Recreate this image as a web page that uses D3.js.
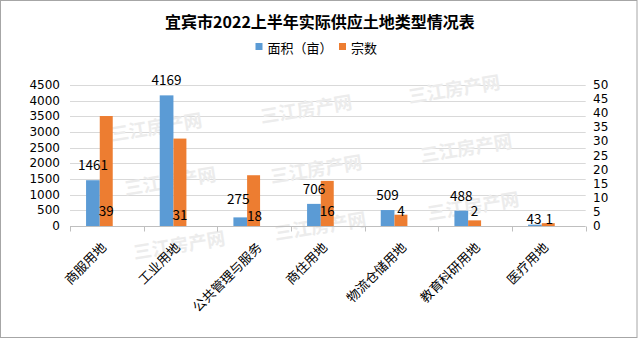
<!DOCTYPE html>
<html><head><meta charset="utf-8">
<script src="https://cdn.jsdelivr.net/npm/d3@7"></script>
<style>html,body{margin:0;padding:0;background:#fff;}svg{display:block;}</style>
</head><body>
<svg id="c" width="640" height="339"></svg>
<script>
// ---- data ----
const categories = ["商服用地","工业用地","公共管理与服务","商住用地","物流仓储用地","教育科研用地","医疗用地"];
const areaValues = [1461,4169,275,706,509,488,43];
const countValues = [39,31,18,16,4,2,1];
const leftTicks = [0,500,1000,1500,2000,2500,3000,3500,4000,4500];
const rightTicks = [0,5,10,15,20,25,30,35,40,45,50];
const seriesNames = ["面积（亩）","宗数"];
const titleText = "宜宾市2022上半年实际供应土地类型情况表";
const watermarkText = "三江房产网";

// ---- styles / layout ----
const colors = ["#5b9bd5","#ed7d31"];
const plot = {left:70, right:585.7, top:85, bottom:226};
const wmPos = [[156,126],[170,180],[179,244],[306,108],[316,168],[320,225],[454,88],[466,147],[473,205]];
const blueNudge = [0,0,-3,0,0,0,9.5];
const blueDx = [0,0,-2,0,0,0,-1];
const orangeNudge = [0,4,5,0,0,0,8];
const orangeDx = [0,0,1,0,0,0,1];

const svg = d3.select("#c");
svg.append("rect").attr("x",0.5).attr("y",0.5).attr("width",636.5).attr("height",337)
  .attr("fill","#fff").attr("stroke","#a6a6a6").attr("stroke-width",1);

const x = d3.scaleBand().domain(categories).range([plot.left, plot.right]).padding(0);
const yL = d3.scaleLinear().domain([0,4500]).range([plot.bottom, plot.top]);
const yR = d3.scaleLinear().domain([0,50]).range([plot.bottom, plot.top]);
const bw = x.bandwidth();

// gridlines
svg.append("g").selectAll("line").data(leftTicks.filter(d=>d>0)).join("line")
  .attr("x1",plot.left).attr("x2",plot.right)
  .attr("y1",d=>Math.round(yL(d))+0.5).attr("y2",d=>Math.round(yL(d))+0.5)
  .attr("stroke","#d9d9d9").attr("stroke-width",1);

// watermarks
svg.append("g").selectAll("text").data(wmPos).join("text")
  .attr("transform",d=>`translate(${d[0]},${d[1]}) rotate(-9)`)
  .attr("text-anchor","middle").attr("dominant-baseline","central")
  .attr("font-family","'Noto Sans CJK SC'").attr("font-weight",700).attr("font-size",18.5)
  .attr("fill","#ececec").text(watermarkText);

// bars
const gB = svg.append("g");
gB.selectAll("rect.a").data(categories).join("rect").attr("class","a")
  .attr("x",(d)=>x(d)+0.218*bw).attr("width",0.186*bw)
  .attr("y",(d,i)=>yL(areaValues[i])).attr("height",(d,i)=>plot.bottom-yL(areaValues[i]))
  .attr("fill",colors[0]);
gB.selectAll("rect.b").data(categories).join("rect").attr("class","b")
  .attr("x",(d)=>x(d)+0.404*bw).attr("width",0.176*bw)
  .attr("y",(d,i)=>yR(countValues[i])).attr("height",(d,i)=>plot.bottom-yR(countValues[i]))
  .attr("fill",colors[1]);

// x axis
const xa = svg.append("g").attr("transform",`translate(0,${plot.bottom+0.5})`);
xa.append("line").attr("x1",plot.left).attr("x2",plot.right).attr("stroke","#bfbfbf");
const bounds = categories.map(d=>x(d)).concat([plot.right]);
xa.selectAll("line.t").data(bounds).join("line").attr("class","t")
  .attr("x1",d=>Math.round(d)+0.5).attr("x2",d=>Math.round(d)+0.5).attr("y1",0).attr("y2",5)
  .attr("stroke","#bfbfbf");
svg.append("g").selectAll("text").data(categories).join("text")
  .attr("transform",d=>`translate(${x(d)+bw/2 - 3.5 + (d.length-4)*2.7},${244.5}) rotate(-45)`)
  .attr("text-anchor","end").attr("dominant-baseline","central")
  .attr("font-family","'Noto Sans CJK SC'").attr("font-size",13).attr("fill","#000")
  .text(d=>d);

// y axes labels
const axisFont = "'DejaVu Sans'";
svg.append("g").selectAll("text").data(leftTicks).join("text")
  .attr("x",60).attr("y",d=>yL(d)).attr("text-anchor","end").attr("dominant-baseline","central")
  .attr("font-family",axisFont).attr("font-size",12).attr("fill","#000").text(d=>d);
svg.append("g").selectAll("text").data(rightTicks).join("text")
  .attr("x",593).attr("y",d=>yR(d)).attr("text-anchor","start").attr("dominant-baseline","central")
  .attr("font-family",axisFont).attr("font-size",12).attr("fill","#000").text(d=>d);

// data labels
const lblFont = "'Noto Sans CJK SC'";
svg.append("g").selectAll("text").data(categories).join("text")
  .attr("x",(d,i)=>x(d)+0.311*bw + blueDx[i]).attr("y",(d,i)=>yL(areaValues[i])-16+blueNudge[i])
  .attr("text-anchor","middle").attr("dominant-baseline","central")
  .attr("font-family",lblFont).attr("font-size",13.5).attr("fill","#000")
  .text((d,i)=>areaValues[i]);
svg.append("g").selectAll("text").data(categories).join("text")
  .attr("x",(d,i)=>x(d)+0.492*bw + orangeDx[i]).attr("y",(d,i)=>plot.bottom-16+orangeNudge[i])
  .attr("text-anchor","middle").attr("dominant-baseline","central")
  .attr("font-family",lblFont).attr("font-size",13.5).attr("fill","#000")
  .text((d,i)=>countValues[i]);

// title
svg.append("text").attr("x",320).attr("y",20.5).attr("text-anchor","middle").attr("dominant-baseline","central")
  .attr("font-family","'Noto Sans CJK SC'").attr("font-weight",700).attr("font-size",16).attr("fill","#000")
  .text(titleText);

// legend
const legX = [255.5, 339];
const lg = svg.append("g");
seriesNames.forEach((n,i)=>{
  lg.append("rect").attr("x",legX[i]).attr("y",43).attr("width",7).attr("height",7).attr("fill",colors[i]);
  lg.append("text").attr("x",legX[i]+12).attr("y",47).attr("dominant-baseline","central")
    .attr("font-family","'Noto Sans CJK SC'").attr("font-size",13).attr("fill","#000").text(n);
});
</script>
</body></html>
